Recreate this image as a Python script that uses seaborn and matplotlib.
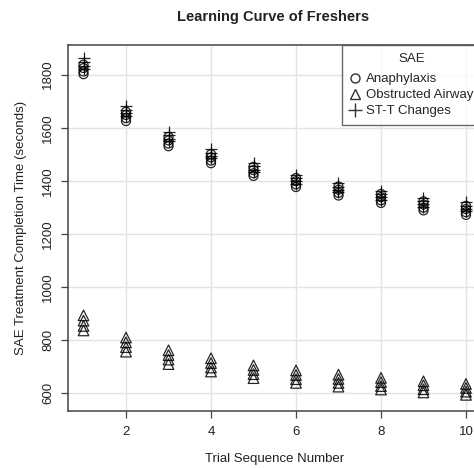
import matplotlib
matplotlib.use("Agg")
import matplotlib.pyplot as plt
from matplotlib.lines import Line2D
import pandas as pd
import seaborn as sns

trials = [1, 2, 3, 4, 5, 6, 7, 8, 9, 10]

# Anaphylaxis (circles): four estimates per trial
anaphylaxis_a = [1838, 1660, 1565, 1500, 1452, 1410, 1378, 1350, 1322, 1305]
anaphylaxis_b = [1825, 1648, 1552, 1488, 1440, 1398, 1366, 1338, 1310, 1293]
anaphylaxis_c = [1812, 1636, 1540, 1476, 1428, 1386, 1354, 1326, 1298, 1281]
anaphylaxis_d = [1802, 1625, 1530, 1466, 1418, 1376, 1344, 1316, 1288, 1271]

# Obstructed Airway (triangles)
airway_a = [892, 808, 760, 730, 703, 684, 668, 656, 643, 633]
airway_b = [872, 790, 742, 712, 686, 667, 652, 640, 628, 618]
airway_c = [852, 772, 725, 695, 670, 651, 637, 625, 613, 604]
airway_d = [835, 755, 708, 680, 655, 637, 623, 612, 601, 592]

# ST-T Changes (plus signs)
stt_a = [1862, 1680, 1585, 1518, 1466, 1422, 1390, 1362, 1335, 1318]
stt_b = [1848, 1667, 1572, 1506, 1454, 1410, 1378, 1350, 1323, 1306]
stt_c = [1834, 1654, 1559, 1494, 1442, 1398, 1366, 1338, 1311, 1294]
stt_d = [1822, 1643, 1548, 1484, 1432, 1388, 1356, 1328, 1301, 1284]

series = {
    "Anaphylaxis": [anaphylaxis_a, anaphylaxis_b, anaphylaxis_c, anaphylaxis_d],
    "Obstructed Airway": [airway_a, airway_b, airway_c, airway_d],
    "ST-T Changes": [stt_a, stt_b, stt_c, stt_d],
}

rows = []
for name, sets in series.items():
    for vals in sets:
        for t, v in zip(trials, vals):
            rows.append({"Trial": t, "Time": v, "SAE": name})
df = pd.DataFrame(rows)

sns.set_style("white")
plt.rcParams["font.family"] = ["Liberation Sans", "DejaVu Sans"]

W, H = 474, 468
fig = plt.figure(figsize=(W / 100, H / 100), dpi=100)
ax = fig.add_axes([68 / W, 1 - 411 / H, 413.5 / W, 366 / H])

styles = {
    "Anaphylaxis": dict(marker="o", s=42, facecolors="none", edgecolors="black", linewidths=0.9),
    "Obstructed Airway": dict(marker="^", s=58, facecolors="none", edgecolors="black", linewidths=0.9),
    "ST-T Changes": dict(marker="+", s=80, color="black", linewidths=0.9),
}
for name, kw in styles.items():
    sub = df[df["SAE"] == name]
    sns.scatterplot(data=sub, x="Trial", y="Time", ax=ax, legend=False, alpha=0.85, zorder=3, **kw)

ax.set_xlim(0.635, 10.365)
ax.set_ylim(531, 1912)
ax.set_xticks([2, 4, 6, 8, 10])
ax.set_yticks([600, 800, 1000, 1200, 1400, 1600, 1800])
ax.grid(True, color="#e3e3e3", linewidth=1.0)
ax.set_axisbelow(True)
for sp in ax.spines.values():
    sp.set_color("#444444")
    sp.set_linewidth(1.1)
ax.tick_params(axis="both", direction="out", length=5, width=0.9, color="#444444",
               labelsize=9.5, labelcolor="#222222", bottom=True, left=True)
for lab in ax.get_yticklabels():
    lab.set_rotation(90)
    lab.set_va("center")
ax.tick_params(axis="y", pad=5)
ax.tick_params(axis="x", pad=6)

ax.set_xlabel("Trial Sequence Number", fontsize=9.5, color="#222222")
ax.set_ylabel("SAE Treatment Completion Time (seconds)", fontsize=9.5, color="#222222")
ax.xaxis.set_label_coords(0.5, (411 - 453) / 366)
ax.yaxis.set_label_coords((27 - 68) / 413.5, 0.5)
fig.text(273 / W, 1 - 17 / H, "Learning Curve of Freshers", ha="center", va="center",
         fontsize=10.5, fontweight="bold", color="#222222")

handles = [
    Line2D([], [], marker="o", linestyle="none", markerfacecolor="none", markeredgecolor="#333333", markersize=6.5),
    Line2D([], [], marker="^", linestyle="none", markerfacecolor="none", markeredgecolor="#333333", markersize=7.5),
    Line2D([], [], marker="+", linestyle="none", color="#333333", markersize=10),
]
leg = ax.legend(handles, list(series.keys()), title="SAE", loc="upper left",
                bbox_to_anchor=(342 / W, 1 - 45 / H), bbox_transform=fig.transFigure,
                fontsize=9.5, title_fontsize=9.5, frameon=True, fancybox=False,
                borderaxespad=0, handletextpad=0.45, handlelength=0.77, labelspacing=0.28,
                borderpad=0.6)
leg._legend_box.sep = 6
leg.get_frame().set_edgecolor("#444444")
leg.get_frame().set_linewidth(1.0)

fig.savefig("out.png", dpi=100)
